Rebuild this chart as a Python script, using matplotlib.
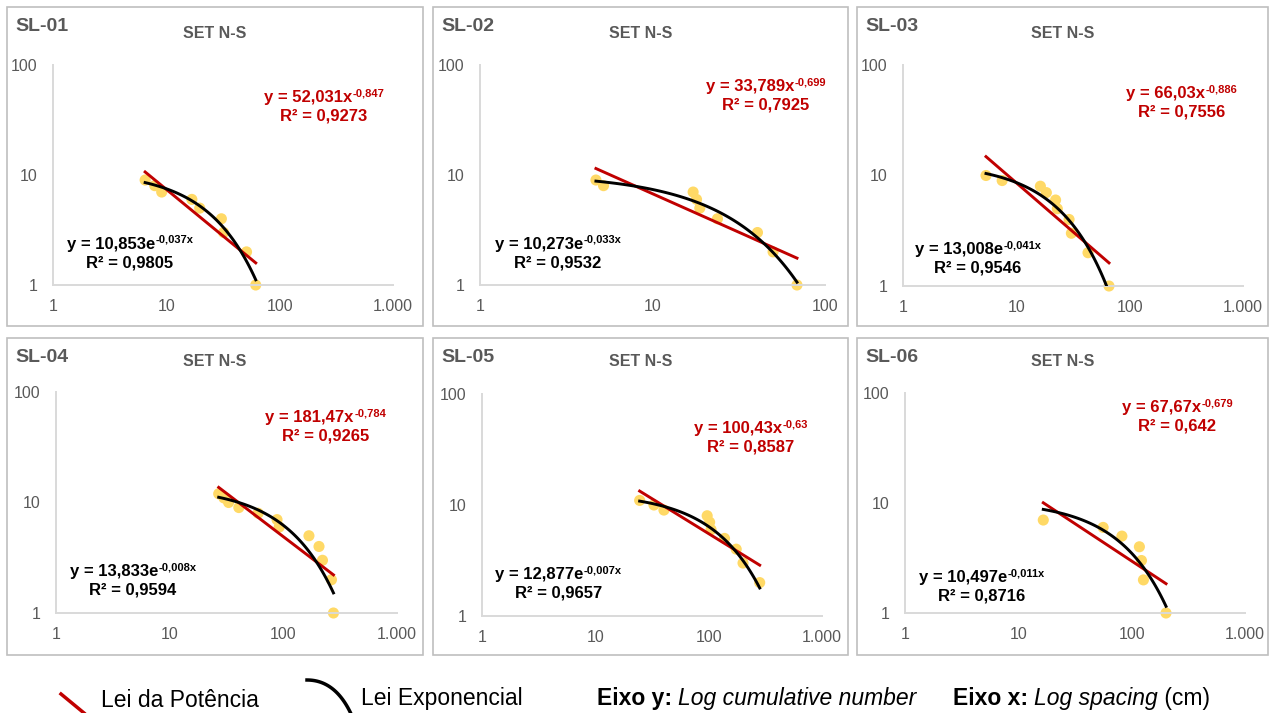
import numpy as np
import matplotlib.pyplot as plt
from matplotlib.patches import Rectangle
from matplotlib.lines import Line2D

plt.rcParams['font.family'] = ['Liberation Sans', 'DejaVu Sans']

W, H = 1271, 713

# espaçamento (cm) e número acumulado de fraturas por linha de varredura
sl01_x = [6.5, 7.9, 9.1, 16.8, 19.7, 30.6, 32.0, 51.0, 61.5]
sl01_y = [9, 8, 7, 6, 5, 4, 3, 2, 1]
sl02_x = [4.7, 5.2, 17.2, 18.0, 18.8, 23.8, 40.6, 50.0, 68.8]
sl02_y = [9, 8, 7, 6, 5, 4, 3, 2, 1]
sl03_x = [5.4, 7.5, 16.3, 18.4, 22.2, 23.0, 29.2, 30.6, 42.9, 65.7]
sl03_y = [10, 9, 8, 7, 6, 5, 4, 3, 2, 1]
sl04_x = [27, 30, 33, 40.6, 60, 88, 92, 168, 206, 221, 265, 276]
sl04_y = [12, 11, 10, 9, 8, 7, 6, 5, 4, 3, 2, 1]
sl05_x = [24.6, 32.9, 40.3, 97, 102, 105, 138, 175, 201, 282]
sl05_y = [11, 10, 9, 8, 7, 6, 5, 4, 3, 2]
sl06_x = [16.6, 56, 82, 117, 122, 127, 201]
sl06_y = [7, 6, 5, 4, 3, 2, 1]

nomes = ['SL-01', 'SL-02', 'SL-03', 'SL-04', 'SL-05', 'SL-06']
dados_x = [sl01_x, sl02_x, sl03_x, sl04_x, sl05_x, sl06_x]
dados_y = [sl01_y, sl02_y, sl03_y, sl04_y, sl05_y, sl06_y]
x_max = [1000, 100, 1000, 1000, 1000, 1000]

# lei da potência: y = a x^b
pot_a = [52.031, 33.789, 66.03, 181.47, 100.43, 67.67]
pot_b = [-0.847, -0.699, -0.886, -0.784, -0.63, -0.679]
pot_r2 = [0.9273, 0.7925, 0.7556, 0.9265, 0.8587, 0.642]
# lei exponencial: y = a e^(b x)
exp_a = [10.853, 10.273, 13.008, 13.833, 12.877, 10.497]
exp_b = [-0.037, -0.033, -0.041, -0.008, -0.007, -0.011]
exp_r2 = [0.9805, 0.9532, 0.9546, 0.9594, 0.9657, 0.8716]

# caixas e eixos em pixels (esq, topo, dir, base)
caixas = [(7, 7, 423, 326), (433, 7, 848, 326), (857, 7, 1268, 326),
          (7, 338, 423, 655), (433, 338, 848, 655), (857, 338, 1268, 655)]
eixos = [(53, 65, 393, 285), (480, 65, 825, 285), (903, 65, 1243, 286),
         (56, 392, 397, 613), (482, 394, 822, 616), (905, 393, 1245, 613)]
pos_pot = [(0.797, 0.814), (0.829, 0.866), (0.82, 0.837),
           (0.79, 0.848), (0.79, 0.81), (0.80, 0.898)]
pos_exp = [(0.226, 0.15), (0.226, 0.15), (0.22, 0.127),
           (0.226, 0.152), (0.224, 0.149), (0.226, 0.125)]

VERMELHO = '#C00000'
CINZA = '#595959'


def fmt(v):
    return f"{v}".replace('.', ',')


fig = plt.figure(figsize=(W / 100, H / 100), dpi=100)
base = fig.add_axes([0, 0, 1, 1])
base.axis('off')
base.set_xlim(0, W)
base.set_ylim(H, 0)
rend = fig.canvas.get_renderer()


def equacao(cx, cy, principal, expoente, r2, cor):
    # linha 1 com expoente sobrescrito, linha 2 com o R², ambas centradas
    t1 = base.text(0, cy - 3.5, principal, fontsize=12, fontweight='bold', color=cor,
                   ha='left', va='baseline', zorder=5)
    t2 = base.text(0, cy - 9, expoente, fontsize=8, fontweight='bold', color=cor,
                   ha='left', va='baseline', zorder=5)
    w1 = t1.get_window_extent(rend).width
    w2 = t2.get_window_extent(rend).width
    x0 = cx - (w1 + w2) / 2
    t1.set_x(x0)
    t2.set_x(x0 + w1 + 0.5)
    base.text(cx, cy + 15, r2, fontsize=12, fontweight='bold', color=cor,
              ha='center', va='baseline', zorder=5)


for i in range(6):
    l, t, r, b = caixas[i]
    base.add_patch(Rectangle((l, t), r - l, b - t, fill=False, ec='#bfbfbf', lw=1.2))
    base.text(l + 8, t + 24, nomes[i], fontsize=14, fontweight='bold', color=CINZA,
              ha='left', va='baseline')
    dy = 31 if i < 3 else 28
    base.text((l + r) / 2, t + dy, 'SET N-S', fontsize=11.5, fontweight='bold',
              color=CINZA, ha='center', va='baseline')

    el, et, er, eb = eixos[i]
    ax = fig.add_axes([el / W, 1 - eb / H, (er - el) / W, (eb - et) / H])
    ax.set_xscale('log')
    ax.set_yscale('log')
    ax.set_xlim(1, x_max[i])
    ax.set_ylim(1, 100)
    ax.patch.set_alpha(0)
    for s in ['top', 'right']:
        ax.spines[s].set_visible(False)
    for s in ['left', 'bottom']:
        ax.spines[s].set_color('#d9d9d9')
        ax.spines[s].set_linewidth(1.4)
    xt = [1, 10, 100, 1000][:int(np.log10(x_max[i])) + 1]
    ax.set_xticks(xt)
    ax.set_xticklabels([f"{v:,}".replace(',', '.') for v in xt])
    ax.set_yticks([1, 10, 100])
    ax.set_yticklabels(['1', '10', '100'])
    ax.minorticks_off()
    ax.tick_params(length=0, labelsize=11.5, labelcolor=CINZA)
    ax.tick_params(axis='x', pad=10)
    ax.tick_params(axis='y', pad=11)

    x = np.array(dados_x[i], dtype=float)
    y = np.array(dados_y[i], dtype=float)
    ax.scatter(x, y, s=64, color='#FFD966', edgecolors='none', zorder=2, clip_on=False)
    xs = np.geomspace(x.min(), x.max(), 120)
    ax.plot(xs, pot_a[i] * xs ** pot_b[i], color=VERMELHO, lw=2.1, zorder=3)
    ax.plot(xs, exp_a[i] * np.exp(exp_b[i] * xs), color='black', lw=2.1, zorder=4)

    px = el + pos_pot[i][0] * (er - el)
    py = eb - pos_pot[i][1] * (eb - et)
    equacao(px, py, f"y = {fmt(pot_a[i])}x", fmt(pot_b[i]), f"R² = {fmt(pot_r2[i])}", VERMELHO)
    px = el + pos_exp[i][0] * (er - el)
    py = eb - pos_exp[i][1] * (eb - et)
    equacao(px, py, f"y = {fmt(exp_a[i])}e", fmt(exp_b[i]) + 'x', f"R² = {fmt(exp_r2[i])}", 'black')

# legenda inferior
base.add_line(Line2D([61, 84], [694, 713], color=VERMELHO, lw=2.5))
u = np.linspace(0, 1, 40)
bx = (1 - u) ** 2 * 307 + 2 * u * (1 - u) * 336 + u ** 2 * 352
by = (1 - u) ** 2 * 680 + 2 * u * (1 - u) * 680 + u ** 2 * 716
base.add_line(Line2D(bx, by, color='black', lw=2.5))
base.text(101, 707, 'Lei da Potência', fontsize=16.5, ha='left', va='baseline')
base.text(361, 705, 'Lei Exponencial', fontsize=16.5, ha='left', va='baseline')

partes = [('Eixo y: ', 'bold', 'normal', 597), ('Log cumulative number', 'normal', 'italic', None),
          ('Eixo x: ', 'bold', 'normal', 953), ('Log spacing', 'normal', 'italic', None),
          (' (cm)', 'normal', 'normal', None)]
ant = None
for txt, peso, estilo, x0 in partes:
    if x0 is not None:
        ant = base.text(x0, 705, txt, fontsize=16.5, fontweight=peso, fontstyle=estilo,
                        ha='left', va='baseline')
    else:
        ant = base.annotate(txt, xy=(1, 0), xycoords=ant, fontsize=16.5, fontweight=peso,
                            fontstyle=estilo, ha='left', va='bottom')

fig.savefig('out.png', dpi=100)
